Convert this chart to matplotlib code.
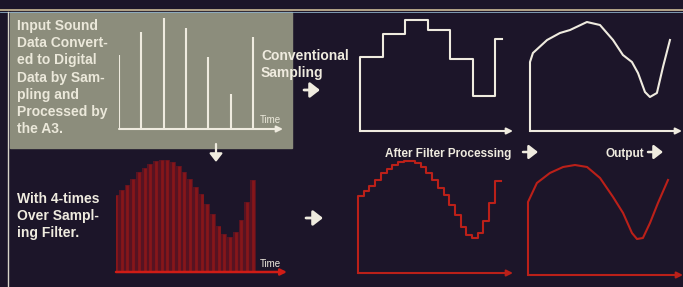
"""
Sampling vs. 4x oversampling diagram (A3 amplifier brochure style).
"""

import matplotlib

matplotlib.use("Agg")
import matplotlib.pyplot as plt
import numpy as np

W, H = 683, 287

# sample heights of the input signal (conventional sampling)
samples = [74, 97, 111, 101, 72, 35, 92]

# output curve after conventional filter (x in sample periods, height)
out_x = [0, 0, 0.13, 0.76, 1.33, 1.78, 2.53, 3.11, 3.69, 4.13, 4.53, 4.80, 5.11, 5.33, 5.64, 5.91, 6.22]
out_y = [0, 69, 78, 91, 98, 101, 109, 106, 91, 76, 69, 58, 39, 34, 38, 64, 91]

# 4-times oversampled values (every quarter sample period)
over_x = np.arange(25) * 0.25
over_y = [77, 82, 87, 93, 100, 104, 108, 111, 112, 112, 110, 106, 100,
          93, 85, 78, 68, 58, 46, 38, 35, 40, 52, 70, 92]

# output curve after oversampling filter
over_out_x = [0, 0, 0.39, 0.96, 1.54, 2.06, 2.59, 3.16, 3.73, 4.17, 4.56, 4.78, 5.04, 5.35, 5.70, 6.14]
over_out_y = [0, 73, 92, 102, 108, 110, 108, 97, 78, 62, 42, 36, 37, 52, 72, 95]

BG = "#1c1529"
BOX = "#8c8d7c"
WHITE = "#efebdf"
RED = "#bb2019"
STEM = "#86161a"
FONT = ["Liberation Sans", "DejaVu Sans"]

fig = plt.figure(figsize=(W / 100, H / 100), dpi=100, facecolor=BG)


def fx(x):
    return x / W


def fy(y):
    return 1 - y / H


def panel(x0, base, x1, step, height=125):
    ax = fig.add_axes([fx(x0), fy(base), (x1 - x0) / W, height / H])
    ax.set_xlim(0, (x1 - x0) / step)
    ax.set_ylim(0, height)
    ax.axis("off")
    ax.patch.set_alpha(0)
    return ax


def time_axis(ax, color, lw=1.5):
    xmax = ax.get_xlim()[1]
    ax.annotate("", xy=(xmax, 0), xytext=(0, 0),
                arrowprops=dict(arrowstyle="-|>", color=color, lw=lw, mutation_scale=9,
                                shrinkA=0, shrinkB=0), annotation_clip=False)


def text(x, y, s, size=10, color=WHITE, weight="bold"):
    fig.text(fx(x), fy(y), s, fontsize=size, color=color, family=FONT,
             fontweight=weight, va="baseline")


def arrow(x0, y0, x1, y1, lw=2.0, head=13):
    bg.annotate("", xy=(x1, y1), xytext=(x0, y0),
                arrowprops=dict(arrowstyle="-|>,head_length=0.45,head_width=0.35", color=WHITE,
                                lw=lw, mutation_scale=head, shrinkA=0, shrinkB=0))


# background decorations
bg = fig.add_axes([0, 0, 1, 1])
bg.set_xlim(0, W)
bg.set_ylim(H, 0)
bg.axis("off")
bg.add_patch(plt.Rectangle((10, 12), 282, 136, color=BOX, zorder=1))
bg.plot([0, W], [10, 10], color="#cdbb98", lw=1.2)
bg.plot([0, W], [11.5, 11.5], color="#8fb0c8", lw=0.6)
bg.plot([8, 8], [12, H], color="#d8d4c8", lw=1.0)

# top left: sampled input
ax = panel(119, 129, 283, 22.3)
ax.vlines(range(len(samples)), 0, samples, color=WHITE, lw=1.5)
time_axis(ax, WHITE)

# top middle: held samples after filter processing
ax = panel(360, 131, 513, 22.5)
sx = [0] + list(range(len(samples))) + [6.3]
sy = [0] + samples + [samples[-1]]
ax.plot(sx, sy, color=WHITE, lw=1.5, drawstyle="steps-post", clip_on=False)
time_axis(ax, WHITE)

# top right: output
ax = panel(530, 131, 682, 22.5)
ax.plot(out_x, out_y, color=WHITE, lw=1.5, clip_on=False, solid_joinstyle="round")
time_axis(ax, WHITE)

# bottom left: oversampled stems
ax = panel(116, 272, 287, 22.8)
ax.bar(over_x, over_y, width=0.25, color="#561322", align="center")
ax.vlines(over_x, 0, over_y, color=STEM, lw=2.0)
time_axis(ax, "#d01c16", lw=1.8)

# bottom middle: oversampled after filter
ax = panel(358, 273, 513, 22.8)
bx = np.concatenate([[0], over_x, [6.25]])
by = np.concatenate([[0], over_y, [over_y[-1]]])
ax.plot(bx, by, color=RED, lw=1.5, drawstyle="steps-post", clip_on=False)
time_axis(ax, RED)

# bottom right: output
ax = panel(528, 275, 683, 22.8)
ax.plot(over_out_x, over_out_y, color=RED, lw=1.5, clip_on=False, solid_joinstyle="round")
time_axis(ax, RED)

# texts
left_lines = ["Input Sound", "Data Convert-", "ed to Digital", "Data by Sam-",
              "pling and", "Processed by", "the A3."]
for i, line in enumerate(left_lines):
    text(17, 30 + 17.2 * i, line, color="#ebe8da")
text(261, 60, "Conventional")
text(261, 77, "Sampling")
text(260, 123, "Time", size=7, color="#ebe8da", weight="normal")
text(385, 157, "After Filter Processing", size=8.5)
text(605, 157, "Output", size=8.5)
for i, line in enumerate(["With 4-times", "Over Sampl-", "ing Filter."]):
    text(17, 203 + 17 * i, line)
text(260, 267, "Time", size=7, weight="normal")

arrow(304, 90, 320, 90)
arrow(306, 218, 323, 218)
arrow(523, 152, 538, 152, lw=1.8, head=12)
arrow(648, 152, 663, 152, lw=1.8, head=12)
arrow(216, 144, 216, 162, lw=1.6, head=11)

fig.savefig("out.png", dpi=100, facecolor=BG)
